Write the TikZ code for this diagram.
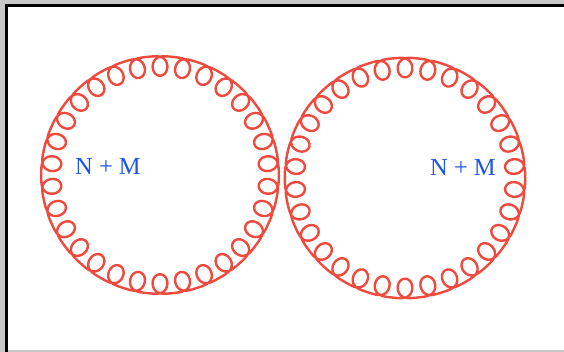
\documentclass[tikz,border=0pt]{standalone}
\usepackage{fontspec}
\newfontfamily\labelfont{Liberation Serif}
\definecolor{gluon}{RGB}{240,74,62}
\definecolor{labelblue}{RGB}{28,86,232}
\definecolor{framegray}{RGB}{200,200,200}
\tikzset{
  gluonline/.style={draw=gluon, line width=2.4pt, line join=round, line cap=round},
  countlabel/.style={text=labelblue, font=\labelfont\fontsize{24.5}{28}\selectfont, anchor=base, inner sep=0pt},
  declare function={
    gluonrad(\t)=13*cos(30*\t)-0.40625*(1+cos(30*\t))^4;
    gluontan(\t)=12.5*sin(30*\t);
  }
}
\begin{document}
\begin{tikzpicture}[x=1pt, y=-1pt]
  \useasboundingbox (0,0) rectangle (564,352);
  % screenshot frame
  \fill[framegray] (0,0) rectangle (564,352);
  \fill[white] (8,7) rectangle (564,350);
  \fill[black] (5,4) rectangle (564,7);
  \fill[black] (5,4) rectangle (8,352);
  % centres
  \coordinate (c1) at (160,175);
  \coordinate (c2) at (405,178);
  % left gluon loop
  \draw[gluonline] plot[domain=0:360, samples=1801, variable=\t]
    ({160 + (112.3 + gluonrad(\t))*cos(\t) - gluontan(\t)*sin(\t)},
     {175 + (112.3 + gluonrad(\t))*sin(\t) + gluontan(\t)*cos(\t)}) -- cycle;
  % right gluon loop
  \draw[gluonline] plot[domain=0:360, samples=1801, variable=\t]
    ({405 + (113.7 + gluonrad(\t))*cos(\t) - gluontan(\t)*sin(\t)},
     {178 + (113.7 + gluonrad(\t))*sin(\t) + gluontan(\t)*cos(\t)}) -- cycle;
  % labels
  \node[countlabel] (lbl1) at (108,175) {N + M};
  \node[countlabel] (lbl2) at (463,175.5) {N + M};
\end{tikzpicture}
\end{document}
